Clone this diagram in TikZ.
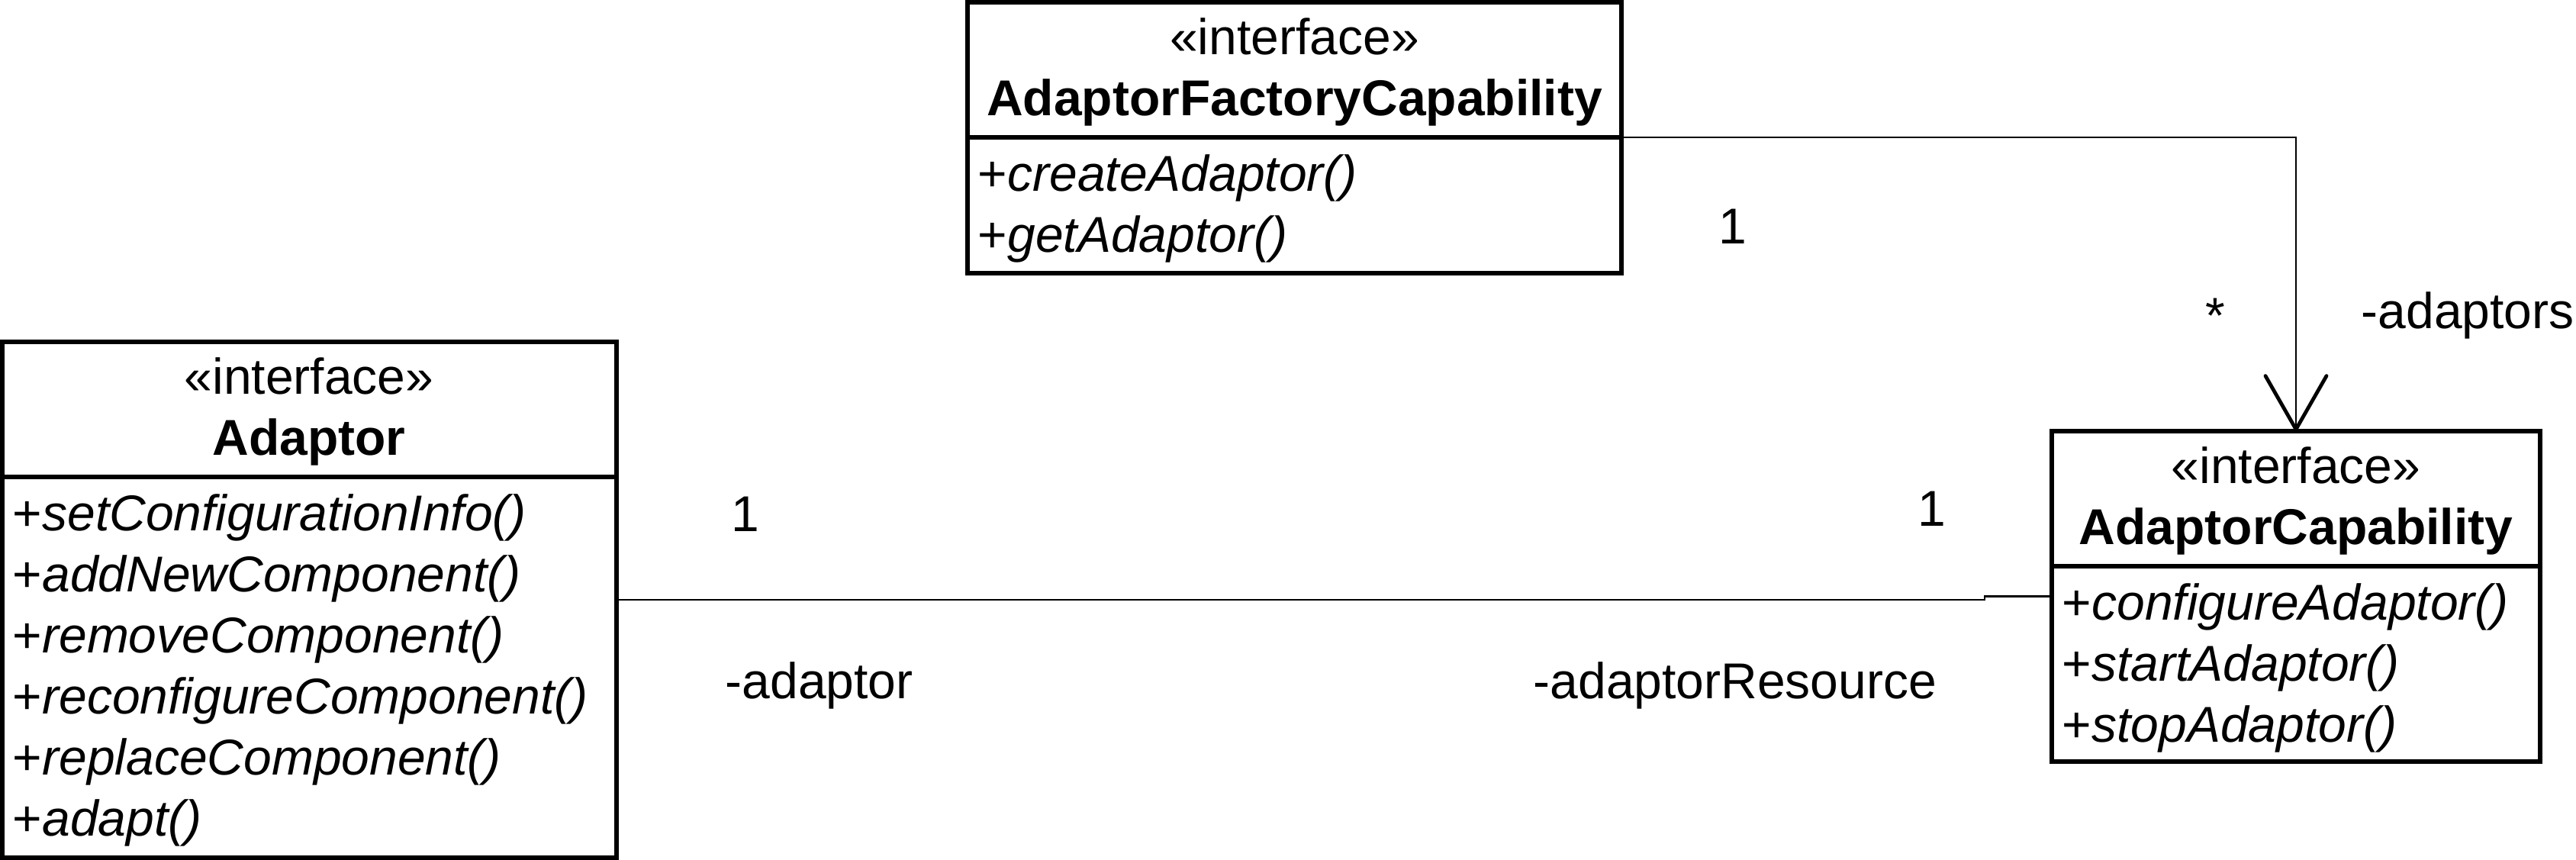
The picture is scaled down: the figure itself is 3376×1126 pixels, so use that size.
\documentclass[tikz,border=0pt]{standalone}
\usepackage{fontspec}
\setmainfont{Liberation Sans}
\usetikzlibrary{arrows.meta}
\begin{document}
\begin{tikzpicture}[x=0.25pt,y=-0.25pt,
  umlbox/.style={draw, line width=1.4pt, inner sep=0pt, outer sep=0pt, anchor=north west},
  sepline/.style={line width=1.4pt},
  txt/.style={inner sep=0pt, font=\fontsize{16.5}{19}\selectfont},
  stereo/.style={txt, anchor=base},
  cname/.style={txt, anchor=base, font=\fontsize{16.5}{19}\selectfont\bfseries},
  op/.style={txt, anchor=base west},
  lbl/.style={txt, anchor=base west},
  assoc/.style={line width=0.7pt},
  nav/.style={assoc, -{Straight Barb[length=17.5pt, width=20pt, line width=1.2pt, round]}}
]
\useasboundingbox (0,0) rectangle (3376,1126);

% ---- AdaptorFactoryCapability ----
\node[umlbox, minimum width=214.25pt, minimum height=88.75pt] (F) at (1268,3) {};
\draw[sepline] ([yshift=-44.25pt]F.north west) -- ([yshift=-44.25pt]F.north east);
\node[stereo] (Fst) at (1696.5,71) {«interface»};
\node[cname] (Fnm) at (1696.5,151) {AdaptorFactoryCapability};
\node[op] (Fo1) at (1281,250) {+\textit{createAdaptor()}};
\node[op] (Fo2) at (1281,330) {+\textit{getAdaptor()}};

% ---- Adaptor ----
\node[umlbox, minimum width=201.25pt, minimum height=169pt] (A) at (3,448) {};
\draw[sepline] ([yshift=-44.25pt]A.north west) -- ([yshift=-44.25pt]A.north east);
\node[stereo] (Ast) at (405,516) {«interface»};
\node[cname] (Anm) at (405,596) {Adaptor};
\node[op] (Ao1) at (16,695) {+\textit{setConfigurationInfo()}};
\node[op] (Ao2) at (16,775) {+\textit{addNewComponent()}};
\node[op] (Ao3) at (16,855) {+\textit{removeComponent()}};
\node[op] (Ao4) at (16,935) {+\textit{reconfigureComponent()}};
\node[op] (Ao5) at (16,1015) {+\textit{replaceComponent()}};
\node[op] (Ao6) at (16,1095) {+\textit{adapt()}};

% ---- AdaptorCapability ----
\node[umlbox, minimum width=160pt, minimum height=108.25pt] (C) at (2689,565) {};
\draw[sepline] ([yshift=-44.25pt]C.north west) -- ([yshift=-44.25pt]C.north east);
\node[stereo] (Cst) at (3009,633) {«interface»};
\node[cname] (Cnm) at (3009,713) {AdaptorCapability};
\node[op] (Co1) at (2702,812) {+\textit{configureAdaptor()}};
\node[op] (Co2) at (2702,892) {+\textit{startAdaptor()}};
\node[op] (Co3) at (2702,972) {+\textit{stopAdaptor()}};

% ---- connectors ----
\draw[nav] ([yshift=-44.25pt]F.north east) -| (C.north);
\draw[assoc] (A.east) -- ++(1793,0) |- (C.west);

% ---- labels ----
\node[lbl] (m1) at (2252,319) {1};
\node[lbl] (m2) at (2890,436) {*};
\node[lbl] (r1) at (3094,430) {-adaptors};
\node[lbl] (m3) at (958,696) {1};
\node[lbl] (r2) at (950,915) {-adaptor};
\node[lbl] (m4) at (2513,689) {1};
\node[lbl] (r3) at (2009,915) {-adaptorResource};
\end{tikzpicture}
\end{document}
